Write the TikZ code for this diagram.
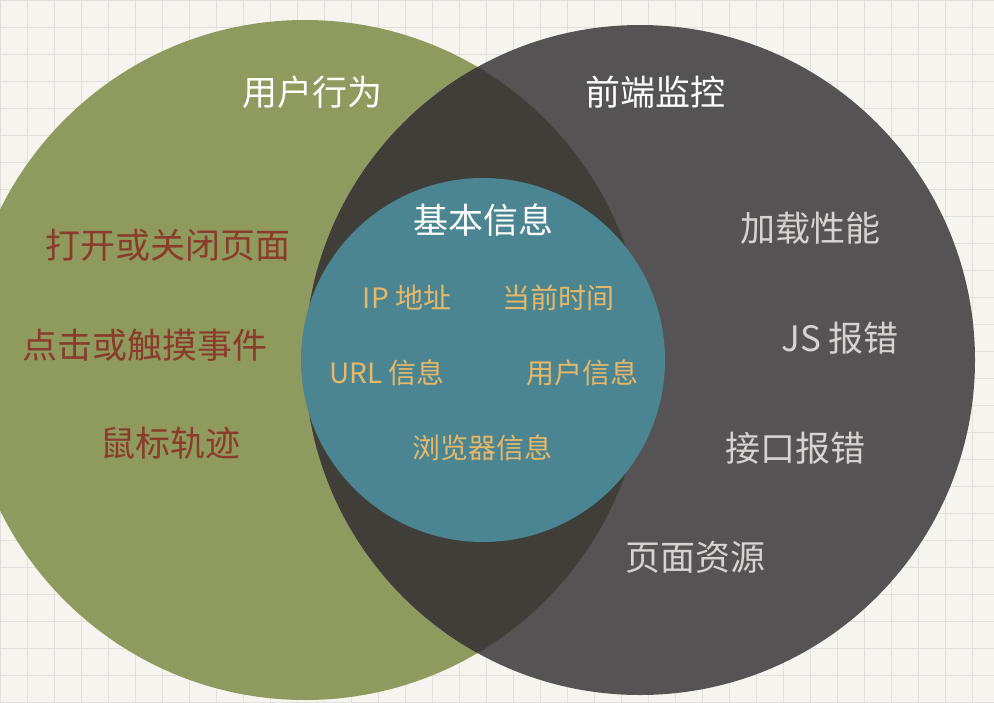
\documentclass[tikz,border=0pt]{standalone}
\usepackage{fontspec}
\newfontfamily\cjk{Noto Sans CJK SC}
\definecolor{paper}{HTML}{F6F4EF}
\definecolor{gridcol}{HTML}{E2E0DC}
\definecolor{usergreen}{HTML}{8E9A5E}
\definecolor{frontgray}{HTML}{565354}
\definecolor{overlapcol}{HTML}{403E38}
\definecolor{basicteal}{HTML}{4B8592}
\definecolor{lefttext}{HTML}{8A3B2B}
\definecolor{righttext}{HTML}{D6D4D2}
\definecolor{innertext}{HTML}{E6B868}
\tikzset{
  title/.style={font=\cjk\fontsize{35}{38}\selectfont, text=white},
  lefttag/.style={font=\cjk\fontsize{35}{38}\selectfont, text=lefttext},
  righttag/.style={font=\cjk\fontsize{35}{38}\selectfont, text=righttext},
  innertag/.style={font=\cjk\fontsize{28}{30}\selectfont, text=innertext},
}
\begin{document}
\begin{tikzpicture}[x=1pt,y=-1pt]
		%%
		\useasboundingbox (0,0) rectangle (994,702);
		\fill[paper] (0,0) rectangle (994,702);
		\foreach \gx in {0,27,...,994} \draw[gridcol, line width=0.8pt] (\gx,0) -- (\gx,702);
		\foreach \gy in {0,27,...,702} \draw[gridcol, line width=0.8pt] (0,\gy) -- (994,\gy);
		% circles
		\fill[usergreen] (305,360) circle (340);
		\fill[frontgray] (640,360) circle (335);
		\begin{scope}
		  \clip (305,360) circle (340);
		  \fill[overlapcol] (640,360) circle (335);
		\end{scope}
		\fill[basicteal] (483,360) circle (182);
		%
		\node (user) at (312,92) [title] {用户行为};
		\node (front) at (655,92) [title] {前端监控};
		\node (basic) at (483,220) [title] {基本信息};
		%
		\node (open) at (168,245) [lefttag] {打开或关闭页面};
		\node (click) at (145,345) [lefttag] {点击或触摸事件};
		\node (mouse) at (170,443) [lefttag] {鼠标轨迹};
		%
		\node (load) at (810,228) [righttag] {加载性能};
		\node (jserr) at (840,338) [righttag] {JS 报错};
		\node (apierr) at (795,448) [righttag] {接口报错};
		\node (res) at (695,557) [righttag] {页面资源};
		%
		\node (ip) at (407,298) [innertag] {IP 地址};
		\node (time) at (558,298) [innertag] {当前时间};
		\node (url) at (387,373) [innertag] {URL 信息};
		\node (uinfo) at (582,373) [innertag] {用户信息};
		\node (browser) at (482,448) [innertag] {浏览器信息};
		%
\end{tikzpicture}
\end{document}
